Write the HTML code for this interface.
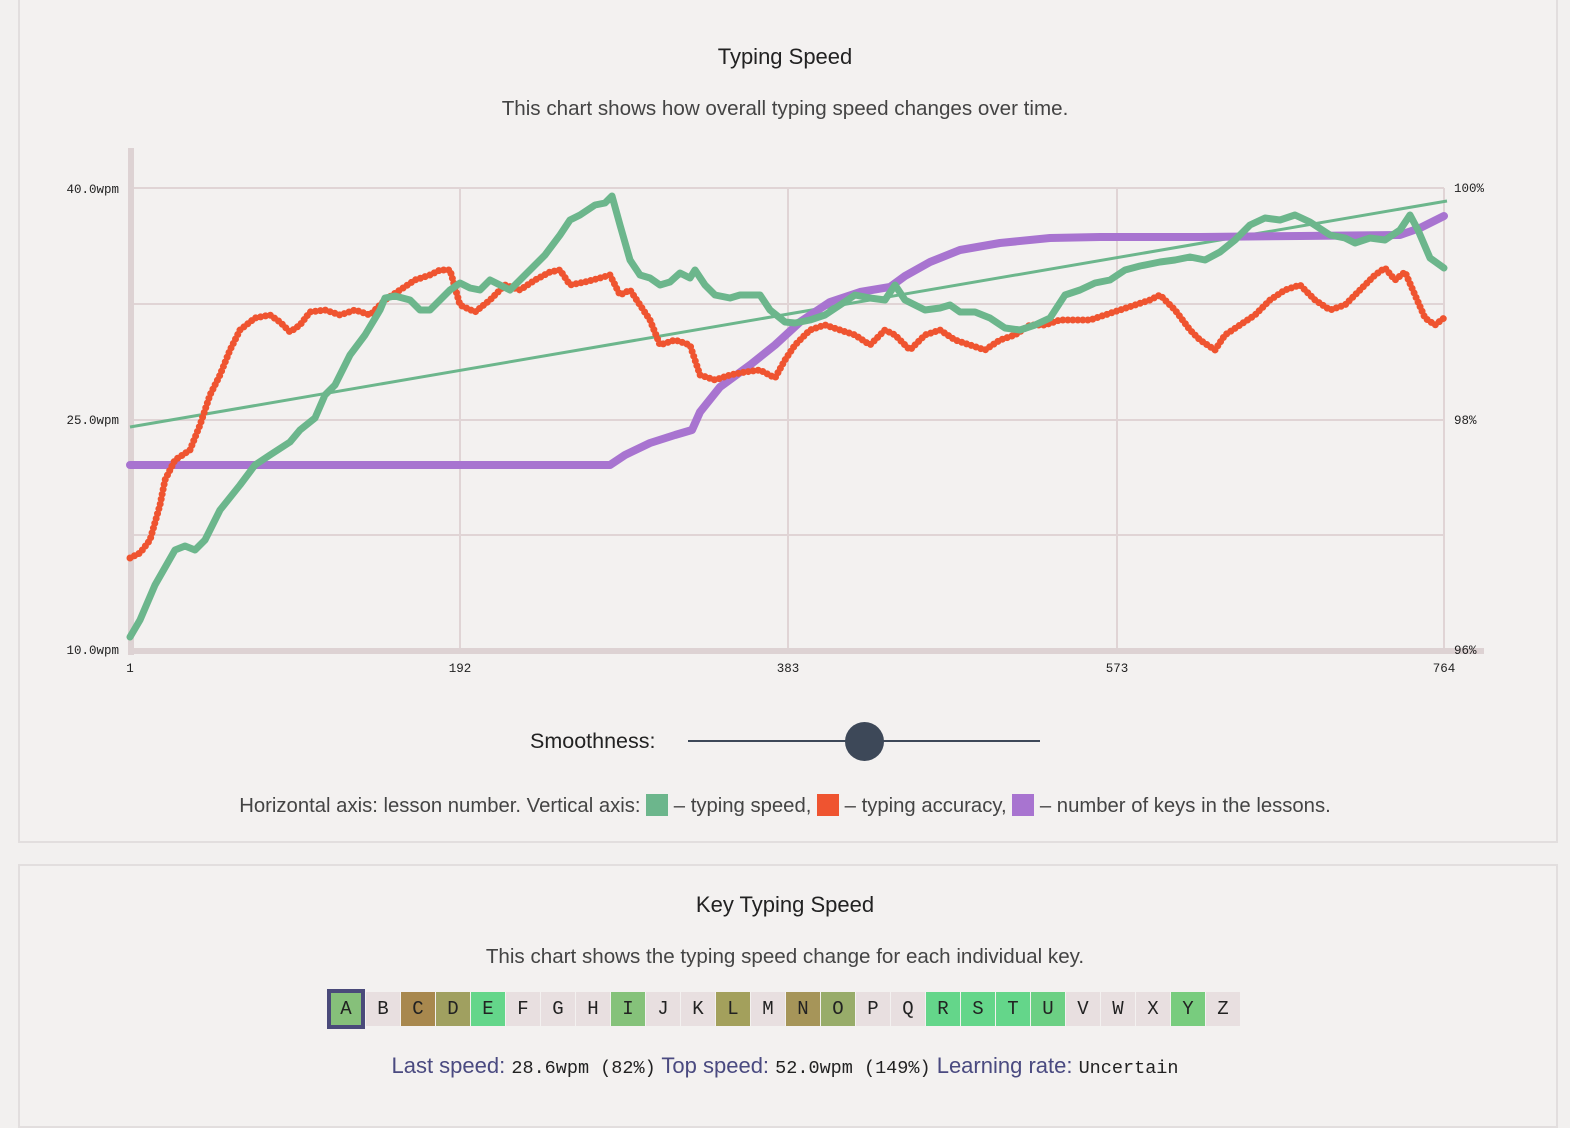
<!DOCTYPE html>
<html><head><meta charset="utf-8"><style>
body{margin:0;background:#f2f0ef;width:1570px;height:1108px;overflow:hidden;font-family:"Liberation Sans",sans-serif;color:#3c3c50;position:relative}
.panel{position:absolute;left:18px;width:1536px;border:2px solid #e2dede;background:#f3f1f0}
.t{position:absolute;left:0;width:100%;text-align:center;white-space:nowrap}
.keys{position:absolute;left:330px;top:992px;display:flex}
.k{width:34px;height:34px;margin-right:1px;background:#e8dfe0;font-family:"Liberation Mono",monospace;font-size:19px;text-align:center;line-height:34px;color:#222;box-sizing:border-box}
.mono{font-family:"Liberation Mono",monospace;color:#222}
.sw{display:inline-block;width:22px;height:22px;vertical-align:-4px}
</style></head><body>
<div class="panel" style="top:-2px;height:841px"></div>
<div class="panel" style="top:864px;height:260px"></div>
<div class="t" style="top:44px;font-size:22px;color:#222">Typing Speed</div>
<div class="t" style="top:97px;font-size:20.6px;color:#444">This chart shows how overall typing speed changes over time.</div>
<svg style="position:absolute;left:0;top:0" width="1570" height="700">
<g stroke="#e0d4d5" stroke-width="2" fill="none">
<line x1="131" y1="188" x2="1444" y2="188"/><line x1="131" y1="304" x2="1444" y2="304"/><line x1="131" y1="420" x2="1444" y2="420"/><line x1="131" y1="535" x2="1444" y2="535"/>
<line x1="460" y1="188" x2="460" y2="650"/><line x1="788" y1="188" x2="788" y2="650"/><line x1="1117" y1="188" x2="1117" y2="650"/><line x1="1444" y1="188" x2="1444" y2="650"/>
</g>
<line x1="131" y1="148" x2="131" y2="655" stroke="#ddd2d3" stroke-width="6"/>
<line x1="128" y1="651" x2="1484" y2="651" stroke="#ddd2d3" stroke-width="6"/>
<g font-family="Liberation Mono,monospace" font-size="12.5" fill="#222">
<text x="119" y="193" text-anchor="end">40.0wpm</text><text x="119" y="424" text-anchor="end">25.0wpm</text><text x="119" y="654" text-anchor="end">10.0wpm</text>
<text x="1454" y="192">100%</text><text x="1454" y="424">98%</text><text x="1454" y="654">96%</text>
<text x="130" y="672" text-anchor="middle">1</text><text x="460" y="672" text-anchor="middle">192</text><text x="788" y="672" text-anchor="middle">383</text><text x="1117" y="672" text-anchor="middle">573</text><text x="1444" y="672" text-anchor="middle">764</text>
</g>
<line x1="130" y1="427" x2="1447" y2="201" stroke="#6cb68c" stroke-width="3"/>
<polyline fill="none" stroke="#a874d0" stroke-width="8" stroke-linecap="round" stroke-linejoin="round" points="130,465 610,465 625,455 650,443 675,435 692,430 700,412 720,387 750,365 775,345 800,322 830,302 860,292 890,287 905,276 930,262 960,250 1000,243 1050,238 1100,237 1200,237 1300,236 1400,235 1420,228 1444,216"/>
<polyline fill="none" stroke="#ef5430" stroke-width="7" stroke-dasharray="0 5" stroke-linecap="round" points="130,558 140,553 150,540 160,505 165,480 175,460 190,450 200,425 210,395 220,375 230,350 240,330 255,318 270,315 280,322 290,332 300,325 310,312 325,310 340,315 355,310 370,315 385,300 400,290 415,280 430,275 440,270 450,270 460,305 475,312 490,300 505,285 520,290 535,280 550,272 560,270 570,285 585,282 600,278 610,275 620,295 630,290 650,320 660,345 675,340 690,345 700,375 715,380 730,375 745,372 760,370 775,378 785,360 795,345 810,330 825,325 840,330 855,335 870,345 885,330 895,335 910,350 925,335 940,330 955,340 970,345 985,350 1000,340 1015,335 1030,325 1045,325 1060,320 1075,320 1090,320 1105,315 1120,310 1135,305 1150,300 1160,295 1175,310 1190,330 1200,340 1215,350 1225,335 1240,325 1255,315 1270,300 1285,290 1300,285 1315,300 1330,310 1345,305 1360,290 1375,275 1385,268 1395,280 1405,272 1415,295 1425,318 1435,325 1444,318"/>
<polyline fill="none" stroke="#6cb68c" stroke-width="7" stroke-linecap="round" stroke-linejoin="round" points="130,637 140,620 155,585 175,550 185,546 195,550 205,540 220,510 240,485 255,465 270,455 290,442 300,430 315,418 325,395 335,385 350,355 365,335 380,310 385,298 395,296 410,300 420,310 430,310 440,300 450,290 460,283 470,288 480,290 490,280 500,285 510,290 520,280 530,270 545,255 560,235 570,220 580,215 595,205 605,203 612,196 620,225 630,260 640,275 650,278 660,285 670,282 680,273 690,278 695,270 705,285 715,295 730,298 740,295 760,295 770,310 785,322 795,323 810,320 825,315 840,305 855,295 870,298 885,300 895,285 905,300 915,305 925,310 940,308 950,305 960,312 975,312 990,318 1005,328 1020,330 1035,325 1050,318 1065,295 1080,290 1095,283 1110,280 1125,270 1140,266 1160,262 1175,260 1190,257 1205,260 1220,252 1235,240 1250,225 1265,218 1280,220 1295,215 1310,222 1330,235 1345,238 1355,243 1370,238 1385,240 1400,230 1410,215 1418,230 1430,258 1444,268"/>
</svg>
<div style="position:absolute;left:530px;top:729px;font-size:21.5px;color:#222">Smoothness:</div>
<div style="position:absolute;left:688px;top:740px;width:352px;height:2px;background:#3d4858"></div>
<div style="position:absolute;left:845px;top:722px;width:39px;height:39px;border-radius:50%;background:#3d4858"></div>
<div class="t" style="top:794px;font-size:20.3px;color:#444">Horizontal axis: lesson number. Vertical axis: <span class="sw" style="background:#6cb68c"></span> – typing speed, <span class="sw" style="background:#ef5430"></span> – typing accuracy, <span class="sw" style="background:#a874d0"></span> – number of keys in the lessons.</div>
<div class="t" style="top:892px;font-size:22px;color:#222">Key Typing Speed</div>
<div class="t" style="top:945px;font-size:20.6px;color:#444">This chart shows the typing speed change for each individual key.</div>
<div class="keys">
<div class="k" style="background:#86c07a;border:4px solid #4a4a7a;width:38px;height:40px;margin-top:-3px;line-height:32px;margin-left:-3px">A</div><div class="k">B</div><div class="k" style="background:#a8884e">C</div><div class="k" style="background:#a0a060">D</div><div class="k" style="background:#64d68a">E</div><div class="k">F</div><div class="k">G</div><div class="k">H</div><div class="k" style="background:#85c27a">I</div><div class="k">J</div><div class="k">K</div><div class="k" style="background:#a3a05c">L</div><div class="k">M</div><div class="k" style="background:#a69559">N</div><div class="k" style="background:#98ac6a">O</div><div class="k">P</div><div class="k">Q</div><div class="k" style="background:#64d68a">R</div><div class="k" style="background:#64d68a">S</div><div class="k" style="background:#64d68a">T</div><div class="k" style="background:#6cd084">U</div><div class="k">V</div><div class="k">W</div><div class="k">X</div><div class="k" style="background:#78cc7e">Y</div><div class="k">Z</div>
</div>
<div class="t" style="top:1053px;font-size:22px;color:#4a4a80">Last speed: <span class="mono" style="font-size:18.5px">28.6wpm (82%)</span> Top speed: <span class="mono" style="font-size:18.5px">52.0wpm (149%)</span> Learning rate: <span class="mono" style="font-size:18.5px">Uncertain</span></div>
</body></html>
